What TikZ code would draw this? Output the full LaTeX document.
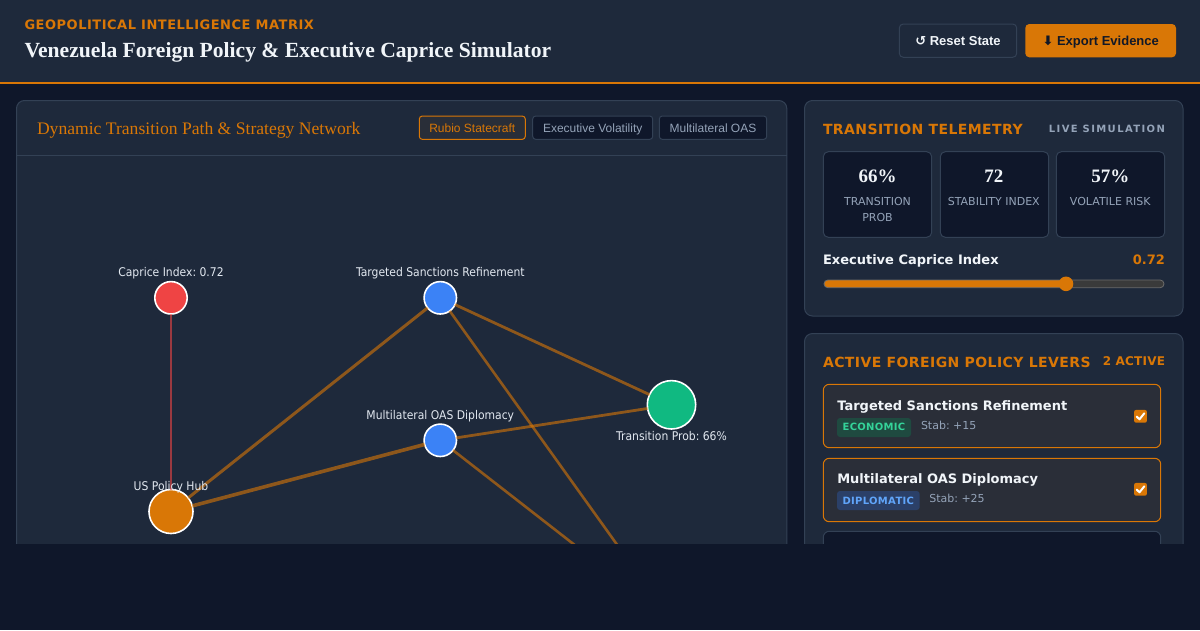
\documentclass[tikz,border=0pt]{standalone}
\usepackage{fontspec}
\setmainfont{DejaVu Sans}
\newfontfamily\arialf{Liberation Sans}
\newfontfamily\timesf{Liberation Serif}
\newfontfamily\dvsf{DejaVu Sans}
\newfontfamily\condf[FakeStretch=0.9]{DejaVu Sans}
\newcommand\fsz[1]{\fontsize{#1}{#1}\selectfont}
\frenchspacing
\definecolor{bgc}{HTML}{0F172A}
\definecolor{panelc}{HTML}{1E293B}
\definecolor{borderc}{HTML}{334155}
\definecolor{orangec}{HTML}{D97706}
\definecolor{grayc}{HTML}{94A3B8}
\definecolor{whitec}{HTML}{F1F5F9}
\definecolor{labelc}{HTML}{E2E8F0}
\definecolor{redc}{HTML}{EF4444}
\definecolor{bluec}{HTML}{3B82F6}
\definecolor{greenc}{HTML}{10B981}
\definecolor{cardc}{HTML}{2A2E38}
\definecolor{ecobg}{HTML}{1F4A40}
\definecolor{ecotx}{HTML}{34D399}
\definecolor{dipbg}{HTML}{2B4068}
\definecolor{diptx}{HTML}{60A5FA}
\definecolor{trackc}{HTML}{3A3A3A}
\definecolor{trackbd}{HTML}{6B6B6B}
\definecolor{darktx}{HTML}{111827}
\tikzset{
  every node/.style={inner sep=0pt,outer sep=0pt},
  panel/.style={fill=panelc,draw=borderc,line width=1pt,rounded corners=8pt},
  tab/.style={draw=borderc,fill=bgc,text=grayc,font=\arialf\frenchspacing\fsz{12},rounded corners=3pt,minimum height=23.3pt,line width=1pt,text height=10.6pt,text depth=2pt},
  gnode/.style={circle,draw=white,line width=1.6pt},
  glabel/.style={anchor=base,text=labelc,font=\condf\frenchspacing\fsz{12}},
  link/.style={draw=orangec,draw opacity=0.6,line width=#1},
  statbox/.style={draw=borderc,fill=bgc,rounded corners=5pt,line width=1pt,anchor=north west,minimum width=108.4pt,minimum height=85.6pt},
  statnum/.style={anchor=base,text=whitec,font=\timesf\bfseries\fsz{19}},
  statlbl/.style={anchor=base,text=grayc,font=\fsz{11}},
  card/.style={fill=cardc,draw=orangec,line width=1pt,rounded corners=6pt,anchor=north west,minimum width=337.4pt,minimum height=63.4pt},
  cardtitle/.style={anchor=base west,text=whitec,font=\bfseries\fsz{13}},
  badge/.style={rounded corners=3pt,anchor=north west,minimum height=19pt},
  badgetx/.style={anchor=base,font=\bfseries\fsz{10}\addfontfeature{LetterSpace=3}},
  stab/.style={anchor=base west,text=grayc,font=\frenchspacing\fsz{11}},
  chk/.style={fill=orangec,rounded corners=2pt,minimum size=12.8pt},
  tick/.style={draw=white,line width=2pt,line cap=round,line join=round}
}
\begin{document}
\begin{tikzpicture}[x=1pt,y=-1pt]
\useasboundingbox (0,0) rectangle (1200,630);
\fill[bgc] (0,0) rectangle (1200,630);
\begin{scope}
\clip (0,0) rectangle (1200,543);
% header
\fill[panelc] (0,0) rectangle (1200,82);
\fill[orangec] (0,81.5) rectangle (1200,83.5);
\node[anchor=base west,text=orangec,font=\bfseries\fsz{13}\addfontfeature{LetterSpace=4}] (kicker) at (24.5,29.3) {GEOPOLITICAL INTELLIGENCE MATRIX};
\node[anchor=base west,text=whitec,font=\timesf\bfseries\fsz{21.6}] (title) at (24.5,57.3) {Venezuela Foreign Policy \& Executive Caprice Simulator};
\node[draw=borderc,fill=panelc,line width=1pt,rounded corners=4pt,anchor=north west,minimum width=117.4pt,minimum height=33.3pt] (reset) at (899.3,24) {};
\node[anchor=base,text=whitec,font=\arialf\bfseries\fsz{13}] (resettx) at (958,45.7) {{\dvsf\bfseries ↺} Reset State};
\node[fill=orangec,rounded corners=4pt,anchor=north west,minimum width=150.7pt,minimum height=33.3pt] (export) at (1025.3,24) {};
\node[anchor=base,text=darktx,font=\arialf\bfseries\fsz{13}] (exporttx) at (1100.7,45.7) {{\dvsf ⬇} Export Evidence};
% left panel
\draw[panel] (16.5,100.5) rectangle (786.8,700);
\draw[borderc,line width=1pt] (16.5,155.5) -- (786.8,155.5);
\node[anchor=base west,text=orangec,font=\timesf\fsz{17.6}] (nettitle) at (37,134) {Dynamic Transition Path \& Strategy Network};
\node[tab,draw=orangec,text=orangec,fill=orangec!6!panelc,minimum width=106pt] (tabrubio) at (472.3,127.7) {Rubio Statecraft};
\node[tab,minimum width=120pt] (tabexec) at (592.7,127.7) {Executive Volatility};
\node[tab,minimum width=107.4pt] (taboas) at (713,127.7) {Multilateral OAS};
% graph
\node[gnode,fill=redc,minimum size=32.4pt] (caprice) at (171,297.8) {};
\node[gnode,fill=bluec,minimum size=32.4pt] (sanctions) at (440.3,297.8) {};
\node[gnode,fill=bluec,minimum size=32.4pt] (oas) at (440.3,440.3) {};
\node[gnode,fill=greenc,minimum size=48.4pt] (trans) at (671.5,404.8) {};
\node[gnode,fill=orangec,minimum size=44pt] (hub) at (171,511.5) {};
\coordinate (hidden) at (671,620);
\draw[redc,opacity=0.6,line width=2pt] (caprice) -- (hub);
\draw[link=3pt] (hub) -- (sanctions);
\draw[link=3.6pt] (hub) -- (oas);
\draw[link=2.8pt] (sanctions) -- (trans);
\draw[link=2.8pt] (oas) -- (trans);
\draw[link=2.6pt] (sanctions) -- (hidden);
\draw[link=2.6pt] (oas) -- (hidden);
\node[glabel] (capricelbl) at (171,276.7) {Caprice Index: 0.72};
\node[glabel] (sanctionslbl) at (440.3,276.7) {Targeted Sanctions Refinement};
\node[glabel] (oaslbl) at (440.3,419.7) {Multilateral OAS Diplomacy};
\node[glabel] (translbl) at (671.5,440) {Transition Prob: 66\%};
\node[glabel] (hublbl) at (171,490.7) {US Policy Hub};
% telemetry panel
\draw[panel] (804.5,100.5) rectangle (1183,316);
\node[anchor=base west,text=orangec,font=\bfseries\fsz{14}\addfontfeature{LetterSpace=3}] (telehd) at (823,134.3) {TRANSITION TELEMETRY};
\node[anchor=base east,text=grayc,font=\bfseries\fsz{10}\addfontfeature{LetterSpace=14}] (live) at (1165,132.3) {LIVE SIMULATION};
\node[statbox] (box1) at (823.3,151.7) {};
\node[statbox] (box2) at (940.3,151.7) {};
\node[statbox] (box3) at (1056.3,151.7) {};
\node[statnum] (num1) at (877.5,182.7) {66\%};
\node[statlbl] (lbl1a) at (877.5,205) {TRANSITION};
\node[statlbl] (lbl1b) at (877.5,221) {PROB};
\node[statnum] (num2) at (993.8,182.7) {72};
\node[statlbl] (lbl2) at (993.8,205) {STABILITY INDEX};
\node[statnum] (num3) at (1110.3,182.7) {57\%};
\node[statlbl] (lbl3) at (1110.3,205) {VOLATILE RISK};
\node[anchor=base west,text=whitec,font=\bfseries\fsz{13}] (capricehd) at (823,264.3) {Executive Caprice Index};
\node[anchor=base east,text=orangec,font=\bfseries\fsz{13}] (capriceval) at (1165,264.3) {0.72};
\fill[trackc,rounded corners=3.8pt] (824,280) rectangle (1164,287.7);
\fill[orangec,rounded corners=3.8pt] (824,280) rectangle (1068,287.7);
\draw[trackbd,line width=0.8pt,rounded corners=3.8pt] (824,280) rectangle (1164,287.7);
\node[circle,fill=orangec,minimum size=14.6pt] (knob) at (1066,283.8) {};
% levers panel
\draw[panel] (804.5,333.5) rectangle (1183,700);
\node[anchor=base west,text=orangec,font=\bfseries\fsz{14}\addfontfeature{LetterSpace=3}] (levershd) at (823,367.3) {ACTIVE FOREIGN POLICY LEVERS};
\node[anchor=base east,text=orangec,font=\bfseries\fsz{12}\addfontfeature{LetterSpace=2}] (activecnt) at (1165,365.3) {2 ACTIVE};
\node[card] (card1) at (823.3,384.3) {};
\node[cardtitle] (card1tx) at (837.3,410.3) {Targeted Sanctions Refinement};
\node[badge,fill=ecobg,minimum width=74pt] (badge1) at (837,418) {};
\node[badgetx,text=ecotx] (badge1tx) at (874,430) {ECONOMIC};
\node[stab] (stab1) at (921,429.3) {Stab: +15};
\node[chk] (chk1) at (1140.5,416.3) {};
\draw[tick] ([shift={(-3.8,0.3)}]chk1.center) -- ([shift={(-1,3)}]chk1.center) -- ([shift={(3.8,-3)}]chk1.center);
\node[card] (card2) at (823.3,458.3) {};
\node[cardtitle] (card2tx) at (837.3,483.7) {Multilateral OAS Diplomacy};
\node[badge,fill=dipbg,minimum width=82.7pt] (badge2) at (837,491) {};
\node[badgetx,text=diptx] (badge2tx) at (878.3,504.3) {DIPLOMATIC};
\node[stab] (stab2) at (929.3,502.3) {Stab: +25};
\node[chk] (chk2) at (1140.5,489.3) {};
\draw[tick] ([shift={(-3.8,0.3)}]chk2.center) -- ([shift={(-1,3)}]chk2.center) -- ([shift={(3.8,-3)}]chk2.center);
\node[card,fill=bgc,draw=borderc] (card3) at (823.3,531.3) {};
\end{scope}
\end{tikzpicture}
\end{document}
